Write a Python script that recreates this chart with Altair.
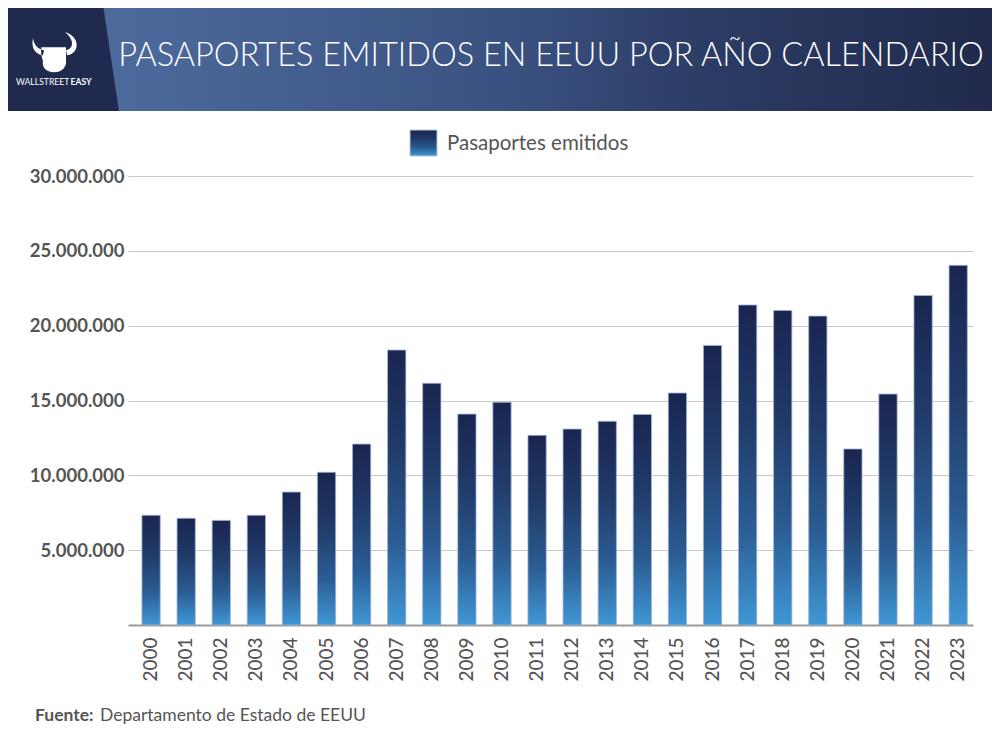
import altair as alt
import pandas as pd

# ---------------- data ----------------
years = [str(y) for y in range(2000, 2024)]
passports = [
    7330000, 7130000, 6990000, 7330000, 8880000, 10200000, 12090000, 18370000,
    16150000, 14090000, 14880000, 12670000, 13090000, 13610000, 14070000, 15500000,
    18680000, 21380000, 21020000, 20640000, 11760000, 15430000, 22020000, 24030000,
]
y_ticks = [5000000, 10000000, 15000000, 20000000, 25000000, 30000000]
series_name = "Pasaportes emitidos"
title_text = "PASAPORTES EMITIDOS EN EEUU POR AÑO CALENDARIO"
source_bold = "Fuente:"
source_text = "Departamento de Estado de EEUU"
logo_words = ["WALLSTREET", "EASY"]

df = pd.DataFrame({"year": years, "value": passports})
one = pd.DataFrame({"k": [0]})

FONT = "Lato"
GREY = "#555555"

# page px -> plot coords (plot origin at page 128,176)
def px(x):
    return x - 128

def py(y):
    return y - 176

bar_grad = alt.Gradient(
    gradient="linear",
    stops=[
        alt.GradientStop(color="#1a2551", offset=0),
        alt.GradientStop(color="#203a68", offset=0.35),
        alt.GradientStop(color="#2b5d94", offset=0.7),
        alt.GradientStop(color="#3f97d5", offset=1),
    ],
    x1=0, x2=0, y1=0, y2=1,
)

head_grad = alt.Gradient(
    gradient="linear",
    stops=[
        alt.GradientStop(color="#4c6b9c", offset=0.1),
        alt.GradientStop(color="#3a5282", offset=0.5),
        alt.GradientStop(color="#2b3b63", offset=0.72),
        alt.GradientStop(color="#212a4c", offset=1),
    ],
    x1=0, x2=1, y1=0, y2=0,
)

# ---------------- header ----------------
header = alt.Chart(one).mark_rect(fill=head_grad).encode(
    x=alt.value(-120), x2=alt.value(864), y=alt.value(-168), y2=alt.value(py(111))
)

dark_path = "M-1.2,-0.95 L0.7,-0.95 L0.983,0.933 L-1.2,0.933 Z"
dark_block = alt.Chart(one).mark_point(
    shape=dark_path, size=14400, filled=True, fill="#1f2a4e", opacity=1, strokeWidth=0
).encode(x=alt.value(px(60)), y=alt.value(py(55)))

logo_path = (
    "M-1.0,-0.64 C-1.1,-0.2 -0.9,0.1 -0.55,0.15 L-0.5,-0.08 C-0.75,-0.12 -0.95,-0.3 -1.0,-0.64 Z "
    "M0.45,-0.91 C1.15,-0.7 1.15,0.05 0.55,0.15 L0.5,-0.08 C0.85,-0.15 0.9,-0.55 0.45,-0.91 Z "
    "M-0.62,-0.22 L0.5,-0.22 L0.5,0.35 C0.55,0.7 0.3,0.92 -0.05,0.92 "
    "C-0.4,0.92 -0.6,0.7 -0.55,0.4 C-0.62,0.2 -0.65,0.0 -0.62,-0.22 Z"
)
logo = alt.Chart(one).mark_point(
    shape=logo_path, size=1936, filled=True, fill="white", opacity=1, strokeWidth=0
).encode(x=alt.value(px(55)), y=alt.value(py(52)))

logo_t1 = alt.Chart(one).mark_text(
    text=logo_words[0], font=FONT, fontSize=8.6, color="white", align="left", baseline="alphabetic"
).encode(x=alt.value(px(16)), y=alt.value(py(85)))
logo_t2 = alt.Chart(one).mark_text(
    text=logo_words[1], font=FONT, fontSize=8.6, fontWeight="bold", color="white",
    align="left", baseline="alphabetic"
).encode(x=alt.value(px(70.5)), y=alt.value(py(85)))

title = alt.Chart(one).mark_text(
    text=title_text, font=FONT, fontSize=32.5, fontWeight=300, color="white",
    align="center", baseline="alphabetic"
).encode(x=alt.value(px(551)), y=alt.value(py(66)))

# ---------------- legend ----------------
leg_rect = alt.Chart(one).mark_rect(fill=bar_grad, stroke="#b8c4d8", strokeWidth=1).encode(
    x=alt.value(px(410)), x2=alt.value(px(437)), y=alt.value(py(130)), y2=alt.value(py(156))
)
leg_text = alt.Chart(one).mark_text(
    text=series_name, font=FONT, fontSize=20.5, color=GREY, align="left", baseline="alphabetic"
).encode(x=alt.value(px(447)), y=alt.value(py(150)))

# ---------------- bars ----------------
bars = alt.Chart(df).mark_bar(
    fill=bar_grad, stroke="#9fb2cf", strokeWidth=1, strokeOpacity=0.8
).encode(
    x=alt.X(
        "year:N", sort=years,
        scale=alt.Scale(paddingInner=0.48, paddingOuter=0.28, align=0.71),
        axis=alt.Axis(
            title=None, labelAngle=-90, labelAlign="right", labelBaseline="middle",
            labelFont=FONT, labelFontSize=19, labelFontWeight=500, labelColor=GREY,
            labelPadding=12, ticks=False, domain=True, domainColor="#9a9a9a",
            domainWidth=2, grid=False,
        ),
    ),
    y=alt.Y(
        "value:Q",
        scale=alt.Scale(domain=[0, 30000000], nice=False),
        axis=alt.Axis(
            title=None, values=y_ticks, format=",d", labelFont=FONT, labelFontSize=18.5,
            labelFontWeight="bold", labelColor=GREY, labelPadding=4, ticks=False,
            domain=False, grid=True, gridColor="#c8c8c8", gridWidth=1,
        ),
    ),
)

# ---------------- footer ----------------
foot1 = alt.Chart(one).mark_text(
    text=source_bold, font=FONT, fontSize=17.5, fontWeight="bold", color=GREY,
    align="left", baseline="alphabetic"
).encode(x=alt.value(px(35)), y=alt.value(py(721)))
foot2 = alt.Chart(one).mark_text(
    text=source_text, font=FONT, fontSize=17.5, color=GREY, align="left", baseline="alphabetic"
).encode(x=alt.value(px(100)), y=alt.value(py(721)))

chart = alt.layer(
    header, dark_block, logo, logo_t1, logo_t2, title, leg_rect, leg_text, bars, foot1, foot2
).properties(
    width=845, height=449,
    autosize=alt.AutoSizeParams(type="none"),
    padding={"left": 120, "top": 168, "right": 19, "bottom": 108},
    background="white",
).configure(
    locale={"number": {"decimal": ",", "thousands": ".", "grouping": [3], "currency": ["", " €"]}},
    view={"stroke": None},
)

chart.save("out.html", embed_options={"renderer": "svg", "actions": False})
